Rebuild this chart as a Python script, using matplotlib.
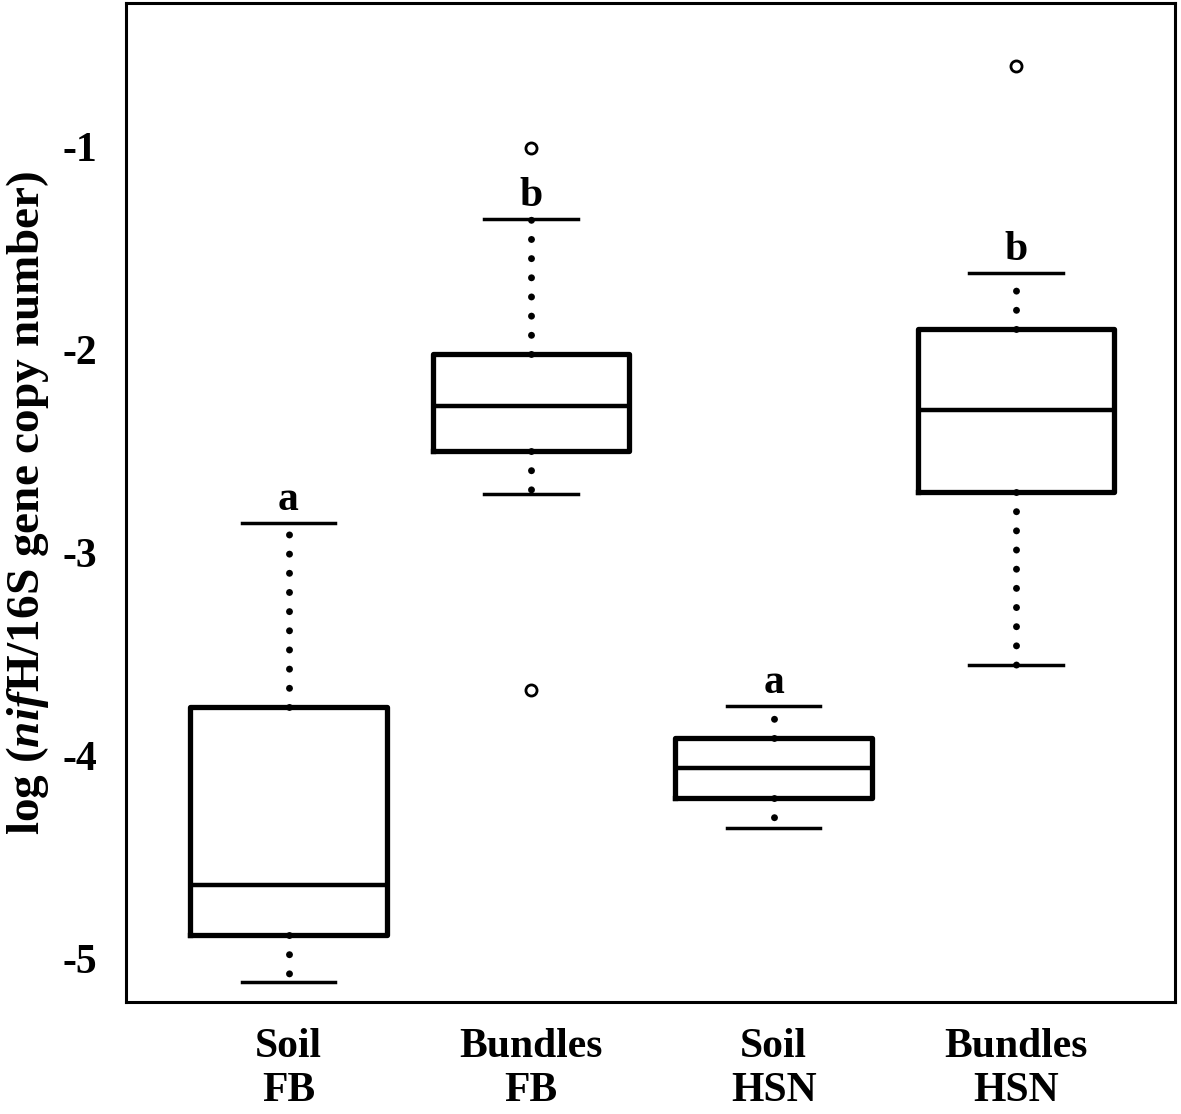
import matplotlib
matplotlib.use('Agg')
from matplotlib import pyplot as plt

# values
groups = ['Soil\nFB', 'Bundles\nFB', 'Soil\nHSN', 'Bundles\nHSN']
whisk_lo = [-5.12, -2.71, -4.36, -3.555]
q1 = [-4.887, -2.50, -4.21, -2.70]
medians = [-4.64, -2.28, -4.063, -2.297]
q3 = [-3.76, -2.02, -3.915, -1.898]
whisk_hi = [-2.855, -1.355, -3.757, -1.621]
fliers = [[], [-1.005, -3.68], [], [-0.60]]
letters = ['a', 'b', 'a', 'b']

plt.rcParams['font.family'] = ['Liberation Serif', 'DejaVu Serif']
plt.rcParams['font.weight'] = 'bold'
plt.rcParams['mathtext.fontset'] = 'custom'
plt.rcParams['mathtext.rm'] = 'Liberation Serif:bold'
plt.rcParams['mathtext.it'] = 'Liberation Serif:italic'

font_size = 30

fig = plt.figure(figsize=(11.81, 11.14), dpi=100)
ax = fig.add_axes([126 / 1181, 1 - 1002 / 1114, (1175 - 126) / 1181, (1002 - 3) / 1114])

stats = []
for k in range(len(groups)):
    stats.append({'whislo': whisk_lo[k], 'q1': q1[k], 'med': medians[k],
                  'q3': q3[k], 'whishi': whisk_hi[k], 'fliers': fliers[k]})

positions = list(range(1, len(groups) + 1))
ax.bxp(stats, positions=positions, widths=0.81, capwidths=0.385,
       boxprops={'color': 'black', 'linewidth': 3.8},
       medianprops={'color': 'black', 'linewidth': 3.2},
       capprops={'color': 'black', 'linewidth': 2.5},
       whiskerprops={'color': 'black', 'linewidth': 5.0,
                     'linestyle': (0, (0.01, 2.75)), 'dash_capstyle': 'round'},
       flierprops={'marker': 'o', 'markersize': 8, 'markerfacecolor': 'white',
                   'markeredgecolor': 'black', 'markeredgewidth': 2.0})

# significance letters just above the upper whisker caps
for k in range(len(groups)):
    ax.text(positions[k], whisk_hi[k] + 0.065, letters[k], ha='center', va='baseline',
            fontsize=font_size, fontweight='bold')

ax.set_xlim(0.33, 4.655)
ax.set_ylim(-5.217, -0.29)
ax.set_xticks(positions)
ax.set_xticklabels(groups)
ax.set_yticks([-5, -4, -3, -2, -1])
ax.set_yticklabels(['-5', '-4', '-3', '-2', '-1'])
ax.tick_params(axis='both', length=0, labelsize=font_size)
ax.tick_params(axis='x', pad=19)
ax.tick_params(axis='y', pad=21)
ax.set_ylabel(r'log ($\mathit{nif}$H/16S gene copy number)', fontsize=34,
              fontweight='bold', labelpad=8)
for s in ax.spines.values():
    s.set_linewidth(2.2)

fig.savefig('out.png', dpi=100)
